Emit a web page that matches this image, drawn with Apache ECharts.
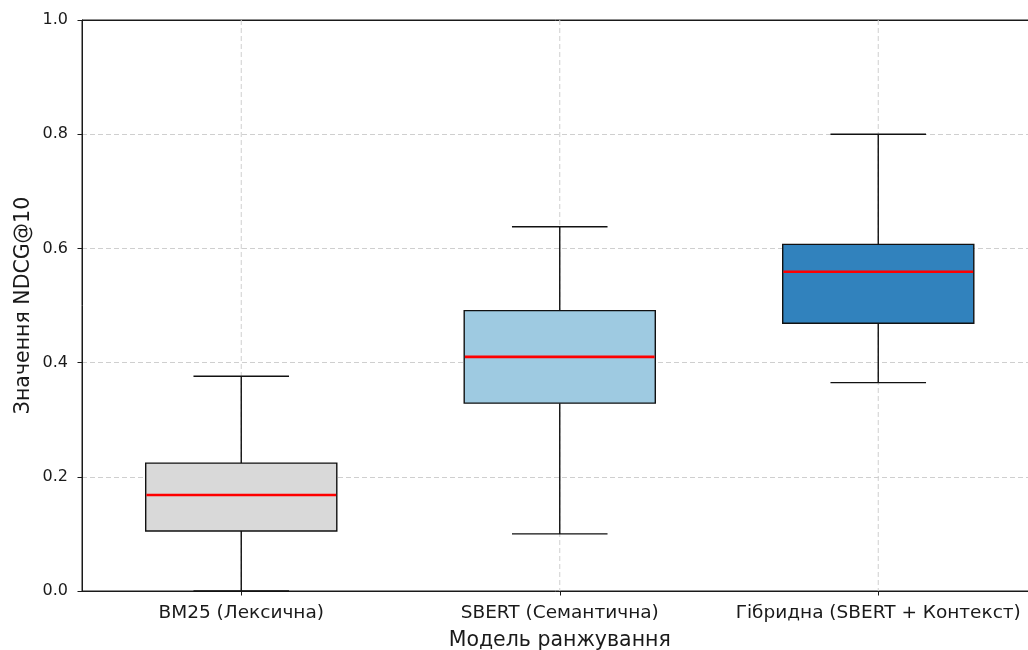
<!DOCTYPE html>
<html>
<head>
<meta charset="utf-8">
<script src="https://cdn.jsdelivr.net/npm/echarts@6/dist/echarts.min.js"></script>
<style>
html,body{margin:0;padding:0;background:#fff;}
#chart{width:1028px;height:650px;}
</style>
</head>
<body>
<div id="chart"></div>
<script>
const categories = ['BM25 (Лексична)', 'SBERT (Семантична)', 'Гібридна (SBERT + Контекст)'];
const whiskerLow = [0.000, 0.100, 0.365];
const q1 = [0.105, 0.329, 0.469];
const medians = [0.168, 0.410, 0.559];
const q3 = [0.224, 0.491, 0.607];
const whiskerHigh = [0.376, 0.638, 0.800];
const yTicks = [0.0, 0.2, 0.4, 0.6, 0.8, 1.0];
const boxColors = ['#d9d9d9', '#9ecae1', '#3182bd'];

const boxData = categories.map((c, i) => [i, whiskerLow[i], q1[i], medians[i], q3[i], whiskerHigh[i]]);

const FONT = 'DejaVu Sans';
const chart = echarts.init(document.getElementById('chart'), null, {renderer: 'canvas'});

function renderBox(params, api) {
  const i = api.value(0);
  const pLow = api.coord([i, api.value(1)]);
  const pQ1 = api.coord([i, api.value(2)]);
  const pMed = api.coord([i, api.value(3)]);
  const pQ3 = api.coord([i, api.value(4)]);
  const pHigh = api.coord([i, api.value(5)]);
  const pTop = api.coord([i, yTicks[yTicks.length - 1]]);
  const pBot = api.coord([i, yTicks[0]]);
  const band = api.size([1, 0])[0];
  const bw = band * 0.6;
  const cw = bw / 2;
  const cx = pLow[0];
  const lineStyle = {stroke: '#111111', lineWidth: 1.4, fill: null};
  return {
    type: 'group',
    children: [
      {type: 'line', shape: {x1: cx, y1: pTop[1], x2: cx, y2: pBot[1]},
       style: {stroke: '#cfcfcf', lineWidth: 1, lineDash: [5, 3]}},
      {type: 'line', shape: {x1: cx, y1: pLow[1], x2: cx, y2: pQ1[1]}, style: lineStyle},
      {type: 'line', shape: {x1: cx, y1: pQ3[1], x2: cx, y2: pHigh[1]}, style: lineStyle},
      {type: 'line', shape: {x1: cx - cw / 2, y1: pLow[1], x2: cx + cw / 2, y2: pLow[1]}, style: lineStyle},
      {type: 'line', shape: {x1: cx - cw / 2, y1: pHigh[1], x2: cx + cw / 2, y2: pHigh[1]}, style: lineStyle},
      {type: 'rect', shape: {x: cx - bw / 2, y: pQ3[1], width: bw, height: pQ1[1] - pQ3[1]},
       style: {fill: boxColors[i], stroke: '#111111', lineWidth: 1.4}},
      {type: 'line', shape: {x1: cx - bw / 2 + 0.7, y1: pMed[1], x2: cx + bw / 2 - 0.7, y2: pMed[1]},
       style: {stroke: '#ff0000', lineWidth: 2.6}}
    ]
  };
}

chart.setOption({
  animation: false,
  backgroundColor: '#ffffff',
  grid: {left: 82, top: 20, width: 955.5, height: 571, containLabel: false, outerBoundsMode: 'none',
         show: true, borderColor: '#1a1a1a', borderWidth: 1, backgroundColor: 'transparent'},
  xAxis: [{
    type: 'category',
    data: categories,
    boundaryGap: true,
    name: 'Модель ранжування',
    nameLocation: 'middle',
    nameGap: 39,
    nameTextStyle: {fontFamily: FONT, fontSize: 20.5, color: '#1a1a1a'},
    axisLine: {show: true, lineStyle: {color: '#1a1a1a', width: 1}},
    axisTick: {show: true, alignWithLabel: true, length: 4.5, lineStyle: {color: '#1a1a1a', width: 1}},
    axisLabel: {fontFamily: FONT, fontSize: 18.5, color: '#1a1a1a', margin: 13, interval: 0},
    splitLine: {show: false}
  }, {
    type: 'category',
    data: categories,
    position: 'top',
    boundaryGap: true,
    axisLine: {show: true, lineStyle: {color: '#1a1a1a', width: 1}},
    axisTick: {show: false},
    axisLabel: {show: false},
    splitLine: {show: false}
  }],
  yAxis: {
    type: 'value',
    min: 0, max: 1, interval: 0.2,
    name: 'Значення NDCG@10',
    nameLocation: 'middle',
    nameGap: 48,
    nameMoveOverlap: false,
    nameTextStyle: {fontFamily: FONT, fontSize: 20.5, color: '#1a1a1a'},
    axisLine: {show: true, lineStyle: {color: '#1a1a1a', width: 1}},
    axisTick: {show: true, length: 4.5, lineStyle: {color: '#1a1a1a', width: 1}},
    axisLabel: {fontFamily: FONT, fontSize: 16, color: '#1a1a1a', margin: 14, formatter: v => v.toFixed(1)},
    splitLine: {show: true, lineStyle: {color: '#cfcfcf', width: 1, type: [5, 3]}}
  },
  series: [{
    type: 'custom',
    renderItem: renderBox,
    data: boxData,
    xAxisIndex: 0,
    encode: {x: 0, y: [1, 2, 3, 4, 5]},
    clip: false,
    z: 5
  }]
});
</script>
</body>
</html>
